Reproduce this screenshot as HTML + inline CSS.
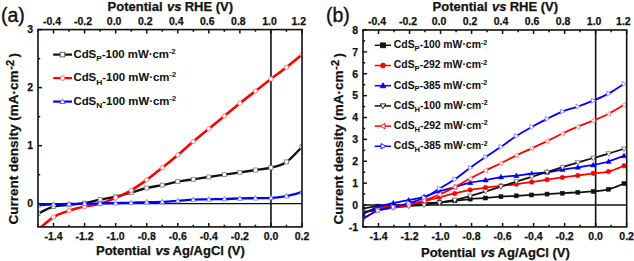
<!DOCTYPE html>
<html><head><meta charset="utf-8"><style>html,body{margin:0;padding:0;background:#fff;width:634px;height:261px;overflow:hidden}svg{display:block}</style></head>
<body>
<svg width="634" height="261" viewBox="0 0 634 261">
<style>
text{font-family:"Liberation Sans", sans-serif;fill:#111;stroke:#111;stroke-width:0.25px}
.tk{font-size:10.5px;font-weight:bold}
.ttl{font-size:13px;font-weight:bold}
.lg{font-size:10px;font-weight:bold;stroke-width:0.05px}
.sub{font-size:7.4px}
.sup{font-size:6.5px}
.lgb{font-size:10.4px;font-weight:bold;stroke-width:0.05px}
.subb{font-size:7.6px}
.supb{font-size:7px}
.pl{font-size:19.5px;stroke:#111;stroke-width:0.35px}
.yl{font-size:13px}
.ysup{font-size:11px}
</style>
<rect width="634" height="261" fill="#fff"/>
<clipPath id="ca"><rect x="38.00" y="29.60" width="264.01" height="197.30"/></clipPath>
<line x1="38.00" y1="203.69" x2="302.01" y2="203.69" stroke="#111" stroke-width="1.3"/>
<line x1="270.95" y1="29.60" x2="270.95" y2="226.90" stroke="#111" stroke-width="1.6"/>
<clipPath id="cb"><rect x="363.00" y="30.00" width="263.67" height="196.90"/></clipPath>
<line x1="363.00" y1="205.02" x2="626.67" y2="205.02" stroke="#111" stroke-width="1.3"/>
<line x1="595.65" y1="30.00" x2="595.65" y2="226.90" stroke="#111" stroke-width="1.6"/>
<path d="M38.00,213.55 C40.59,212.39 48.35,208.04 53.53,206.59 C58.71,205.14 63.88,205.43 69.06,204.85 C74.24,204.27 79.41,203.98 84.59,203.11 C89.77,202.24 94.94,200.69 100.12,199.63 C105.30,198.56 110.47,197.89 115.65,196.72 C120.83,195.56 126.00,194.11 131.18,192.66 C136.36,191.21 141.53,189.28 146.71,188.02 C151.89,186.76 157.06,186.18 162.24,185.12 C167.42,184.05 172.59,182.60 177.77,181.64 C182.95,180.67 188.12,180.09 193.30,179.32 C198.48,178.54 203.65,177.77 208.83,176.99 C214.01,176.22 219.18,175.45 224.36,174.67 C229.54,173.90 234.71,173.13 239.89,172.35 C245.07,171.58 250.24,170.80 255.42,170.03 C260.60,169.26 265.77,169.06 270.95,167.71 C276.13,166.36 281.30,165.39 286.48,161.91 C291.66,158.43 299.42,149.33 302.01,146.82" fill="none" stroke="#111" stroke-width="2.40" stroke-linejoin="round" clip-path="url(#ca)"/>
<g clip-path="url(#ca)"><rect x="36.00" y="211.55" width="4.00" height="4.00" fill="#fff" stroke="#777" stroke-width="0.80"/><rect x="51.53" y="204.59" width="4.00" height="4.00" fill="#fff" stroke="#777" stroke-width="0.80"/><rect x="67.06" y="202.85" width="4.00" height="4.00" fill="#fff" stroke="#777" stroke-width="0.80"/><rect x="82.59" y="201.11" width="4.00" height="4.00" fill="#fff" stroke="#777" stroke-width="0.80"/><rect x="98.12" y="197.63" width="4.00" height="4.00" fill="#fff" stroke="#777" stroke-width="0.80"/><rect x="113.65" y="194.72" width="4.00" height="4.00" fill="#fff" stroke="#777" stroke-width="0.80"/><rect x="129.18" y="190.66" width="4.00" height="4.00" fill="#fff" stroke="#777" stroke-width="0.80"/><rect x="144.71" y="186.02" width="4.00" height="4.00" fill="#fff" stroke="#777" stroke-width="0.80"/><rect x="160.24" y="183.12" width="4.00" height="4.00" fill="#fff" stroke="#777" stroke-width="0.80"/><rect x="175.77" y="179.64" width="4.00" height="4.00" fill="#fff" stroke="#777" stroke-width="0.80"/><rect x="191.30" y="177.32" width="4.00" height="4.00" fill="#fff" stroke="#777" stroke-width="0.80"/><rect x="206.83" y="174.99" width="4.00" height="4.00" fill="#fff" stroke="#777" stroke-width="0.80"/><rect x="222.36" y="172.67" width="4.00" height="4.00" fill="#fff" stroke="#777" stroke-width="0.80"/><rect x="237.89" y="170.35" width="4.00" height="4.00" fill="#fff" stroke="#777" stroke-width="0.80"/><rect x="253.42" y="168.03" width="4.00" height="4.00" fill="#fff" stroke="#777" stroke-width="0.80"/><rect x="268.95" y="165.71" width="4.00" height="4.00" fill="#fff" stroke="#777" stroke-width="0.80"/><rect x="284.48" y="159.91" width="4.00" height="4.00" fill="#fff" stroke="#777" stroke-width="0.80"/><rect x="300.01" y="144.82" width="4.00" height="4.00" fill="#fff" stroke="#777" stroke-width="0.80"/></g>
<path d="M38.00,229.80 C40.59,227.67 48.35,220.23 53.53,217.03 C58.71,213.84 63.88,212.39 69.06,210.65 C74.24,208.91 79.41,207.75 84.59,206.59 C89.77,205.43 94.94,205.14 100.12,203.69 C105.30,202.24 110.47,200.11 115.65,197.89 C120.83,195.66 126.00,193.34 131.18,190.34 C136.36,187.34 141.53,183.67 146.71,179.90 C151.89,176.12 157.06,171.87 162.24,167.71 C167.42,163.55 172.59,159.30 177.77,154.94 C182.95,150.59 188.12,145.95 193.30,141.60 C198.48,137.24 203.65,133.09 208.83,128.83 C214.01,124.57 219.18,120.32 224.36,116.06 C229.54,111.81 234.71,107.46 239.89,103.30 C245.07,99.14 250.24,95.17 255.42,91.11 C260.60,87.05 265.77,82.89 270.95,78.93 C276.13,74.96 281.30,71.38 286.48,67.32 C291.66,63.26 299.42,56.68 302.01,54.55" fill="none" stroke="#f00" stroke-width="2.60" stroke-linejoin="round" clip-path="url(#ca)"/>
<g clip-path="url(#ca)"><circle cx="53.53" cy="217.03" r="2.20" fill="#fff" stroke="#f66" stroke-width="0.80"/><circle cx="69.06" cy="210.65" r="2.20" fill="#fff" stroke="#f66" stroke-width="0.80"/><circle cx="84.59" cy="206.59" r="2.20" fill="#fff" stroke="#f66" stroke-width="0.80"/><circle cx="100.12" cy="203.69" r="2.20" fill="#fff" stroke="#f66" stroke-width="0.80"/><circle cx="115.65" cy="197.89" r="2.20" fill="#fff" stroke="#f66" stroke-width="0.80"/><circle cx="131.18" cy="190.34" r="2.20" fill="#fff" stroke="#f66" stroke-width="0.80"/><circle cx="146.71" cy="179.90" r="2.20" fill="#fff" stroke="#f66" stroke-width="0.80"/><circle cx="162.24" cy="167.71" r="2.20" fill="#fff" stroke="#f66" stroke-width="0.80"/><circle cx="177.77" cy="154.94" r="2.20" fill="#fff" stroke="#f66" stroke-width="0.80"/><circle cx="193.30" cy="141.60" r="2.20" fill="#fff" stroke="#f66" stroke-width="0.80"/><circle cx="208.83" cy="128.83" r="2.20" fill="#fff" stroke="#f66" stroke-width="0.80"/><circle cx="224.36" cy="116.06" r="2.20" fill="#fff" stroke="#f66" stroke-width="0.80"/><circle cx="239.89" cy="103.30" r="2.20" fill="#fff" stroke="#f66" stroke-width="0.80"/><circle cx="255.42" cy="91.11" r="2.20" fill="#fff" stroke="#f66" stroke-width="0.80"/><circle cx="270.95" cy="78.93" r="2.20" fill="#fff" stroke="#f66" stroke-width="0.80"/><circle cx="286.48" cy="67.32" r="2.20" fill="#fff" stroke="#f66" stroke-width="0.80"/><circle cx="302.01" cy="54.55" r="2.20" fill="#fff" stroke="#f66" stroke-width="0.80"/></g>
<path d="M38.00,205.14 C40.59,204.99 48.35,204.46 53.53,204.27 C58.71,204.08 63.88,204.08 69.06,203.98 C74.24,203.88 79.41,203.78 84.59,203.69 C89.77,203.59 94.94,203.49 100.12,203.40 C105.30,203.30 110.47,203.20 115.65,203.11 C120.83,203.01 126.00,202.98 131.18,202.82 C136.36,202.65 141.53,202.27 146.71,202.12 C151.89,201.98 157.06,202.15 162.24,201.95 C167.42,201.74 172.59,201.29 177.77,200.90 C182.95,200.52 188.12,199.89 193.30,199.63 C198.48,199.37 203.65,199.43 208.83,199.34 C214.01,199.24 219.18,199.19 224.36,199.05 C229.54,198.90 234.71,198.61 239.89,198.47 C245.07,198.32 250.24,198.27 255.42,198.18 C260.60,198.08 265.77,198.22 270.95,197.89 C276.13,197.55 281.30,197.11 286.48,196.14 C291.66,195.18 299.42,192.76 302.01,192.08" fill="none" stroke="#00f" stroke-width="2.30" stroke-linejoin="round" clip-path="url(#ca)"/>
<g clip-path="url(#ca)"><polygon points="38.00,202.50 40.51,206.99 35.49,206.99" fill="#fff" stroke="#66f" stroke-width="0.80"/><polygon points="53.53,201.63 56.04,206.12 51.02,206.12" fill="#fff" stroke="#66f" stroke-width="0.80"/><polygon points="69.06,201.34 71.57,205.83 66.55,205.83" fill="#fff" stroke="#66f" stroke-width="0.80"/><polygon points="84.59,201.05 87.10,205.54 82.08,205.54" fill="#fff" stroke="#66f" stroke-width="0.80"/><polygon points="100.12,200.76 102.63,205.25 97.61,205.25" fill="#fff" stroke="#66f" stroke-width="0.80"/><polygon points="115.65,200.47 118.16,204.96 113.14,204.96" fill="#fff" stroke="#66f" stroke-width="0.80"/><polygon points="131.18,200.18 133.69,204.67 128.67,204.67" fill="#fff" stroke="#66f" stroke-width="0.80"/><polygon points="146.71,199.48 149.22,203.97 144.20,203.97" fill="#fff" stroke="#66f" stroke-width="0.80"/><polygon points="162.24,199.31 164.75,203.80 159.73,203.80" fill="#fff" stroke="#66f" stroke-width="0.80"/><polygon points="177.77,198.26 180.28,202.75 175.26,202.75" fill="#fff" stroke="#66f" stroke-width="0.80"/><polygon points="193.30,196.99 195.81,201.47 190.79,201.47" fill="#fff" stroke="#66f" stroke-width="0.80"/><polygon points="208.83,196.70 211.34,201.18 206.32,201.18" fill="#fff" stroke="#66f" stroke-width="0.80"/><polygon points="224.36,196.41 226.87,200.89 221.85,200.89" fill="#fff" stroke="#66f" stroke-width="0.80"/><polygon points="239.89,195.83 242.40,200.31 237.38,200.31" fill="#fff" stroke="#66f" stroke-width="0.80"/><polygon points="255.42,195.54 257.93,200.02 252.91,200.02" fill="#fff" stroke="#66f" stroke-width="0.80"/><polygon points="270.95,195.25 273.46,199.73 268.44,199.73" fill="#fff" stroke="#66f" stroke-width="0.80"/><polygon points="286.48,193.50 288.99,197.99 283.97,197.99" fill="#fff" stroke="#66f" stroke-width="0.80"/><polygon points="302.01,189.44 304.52,193.93 299.50,193.93" fill="#fff" stroke="#66f" stroke-width="0.80"/></g>
<path d="M362.52,208.74 C365.08,208.30 372.77,206.66 377.90,206.12 C383.03,205.57 388.15,205.68 393.28,205.46 C398.41,205.24 403.53,205.13 408.66,204.80 C413.79,204.48 418.91,203.89 424.04,203.49 C429.17,203.09 434.29,202.83 439.42,202.40 C444.55,201.96 449.67,201.41 454.80,200.87 C459.93,200.32 465.05,199.59 470.18,199.12 C475.31,198.64 480.43,198.42 485.56,198.02 C490.69,197.62 495.81,197.07 500.94,196.71 C506.07,196.34 511.19,196.13 516.32,195.83 C521.45,195.54 526.57,195.25 531.70,194.96 C536.83,194.67 541.95,194.38 547.08,194.08 C552.21,193.79 557.33,193.50 562.46,193.21 C567.59,192.92 572.71,192.62 577.84,192.33 C582.97,192.04 588.09,191.97 593.22,191.46 C598.35,190.95 603.47,190.58 608.60,189.27 C613.73,187.96 621.42,184.53 623.98,183.58" fill="none" stroke="#111" stroke-width="1.80" stroke-linejoin="round" clip-path="url(#cb)"/>
<g clip-path="url(#cb)"><rect x="360.52" y="206.74" width="4.00" height="4.00" fill="#111" stroke="#111" stroke-width="0.50"/><rect x="375.90" y="204.12" width="4.00" height="4.00" fill="#111" stroke="#111" stroke-width="0.50"/><rect x="391.28" y="203.46" width="4.00" height="4.00" fill="#111" stroke="#111" stroke-width="0.50"/><rect x="406.66" y="202.80" width="4.00" height="4.00" fill="#111" stroke="#111" stroke-width="0.50"/><rect x="422.04" y="201.49" width="4.00" height="4.00" fill="#111" stroke="#111" stroke-width="0.50"/><rect x="437.42" y="200.40" width="4.00" height="4.00" fill="#111" stroke="#111" stroke-width="0.50"/><rect x="452.80" y="198.87" width="4.00" height="4.00" fill="#111" stroke="#111" stroke-width="0.50"/><rect x="468.18" y="197.12" width="4.00" height="4.00" fill="#111" stroke="#111" stroke-width="0.50"/><rect x="483.56" y="196.02" width="4.00" height="4.00" fill="#111" stroke="#111" stroke-width="0.50"/><rect x="498.94" y="194.71" width="4.00" height="4.00" fill="#111" stroke="#111" stroke-width="0.50"/><rect x="514.32" y="193.83" width="4.00" height="4.00" fill="#111" stroke="#111" stroke-width="0.50"/><rect x="529.70" y="192.96" width="4.00" height="4.00" fill="#111" stroke="#111" stroke-width="0.50"/><rect x="545.08" y="192.08" width="4.00" height="4.00" fill="#111" stroke="#111" stroke-width="0.50"/><rect x="560.46" y="191.21" width="4.00" height="4.00" fill="#111" stroke="#111" stroke-width="0.50"/><rect x="575.84" y="190.33" width="4.00" height="4.00" fill="#111" stroke="#111" stroke-width="0.50"/><rect x="591.22" y="189.46" width="4.00" height="4.00" fill="#111" stroke="#111" stroke-width="0.50"/><rect x="606.60" y="187.27" width="4.00" height="4.00" fill="#111" stroke="#111" stroke-width="0.50"/><rect x="621.98" y="181.58" width="4.00" height="4.00" fill="#111" stroke="#111" stroke-width="0.50"/></g>
<path d="M362.52,213.77 C365.08,212.86 372.77,209.58 377.90,208.30 C383.03,207.03 388.15,206.85 393.28,206.12 C398.41,205.39 403.53,204.73 408.66,203.93 C413.79,203.13 418.91,202.40 424.04,201.30 C429.17,200.21 434.29,198.68 439.42,197.37 C444.55,196.05 449.67,194.67 454.80,193.43 C459.93,192.19 465.05,190.91 470.18,189.93 C475.31,188.94 480.43,188.21 485.56,187.52 C490.69,186.83 495.81,186.32 500.94,185.77 C506.07,185.22 511.19,184.86 516.32,184.24 C521.45,183.62 526.57,182.82 531.70,182.05 C536.83,181.28 541.95,180.41 547.08,179.64 C552.21,178.88 557.33,178.15 562.46,177.46 C567.59,176.76 572.71,176.18 577.84,175.49 C582.97,174.79 588.09,173.96 593.22,173.30 C598.35,172.64 603.47,172.79 608.60,171.55 C613.73,170.31 621.42,166.81 623.98,165.86" fill="none" stroke="#f00" stroke-width="1.80" stroke-linejoin="round" clip-path="url(#cb)"/>
<g clip-path="url(#cb)"><circle cx="362.52" cy="213.77" r="2.30" fill="#f00" stroke="#f00" stroke-width="0.50"/><circle cx="377.90" cy="208.30" r="2.30" fill="#f00" stroke="#f00" stroke-width="0.50"/><circle cx="393.28" cy="206.12" r="2.30" fill="#f00" stroke="#f00" stroke-width="0.50"/><circle cx="408.66" cy="203.93" r="2.30" fill="#f00" stroke="#f00" stroke-width="0.50"/><circle cx="424.04" cy="201.30" r="2.30" fill="#f00" stroke="#f00" stroke-width="0.50"/><circle cx="439.42" cy="197.37" r="2.30" fill="#f00" stroke="#f00" stroke-width="0.50"/><circle cx="454.80" cy="193.43" r="2.30" fill="#f00" stroke="#f00" stroke-width="0.50"/><circle cx="470.18" cy="189.93" r="2.30" fill="#f00" stroke="#f00" stroke-width="0.50"/><circle cx="485.56" cy="187.52" r="2.30" fill="#f00" stroke="#f00" stroke-width="0.50"/><circle cx="500.94" cy="185.77" r="2.30" fill="#f00" stroke="#f00" stroke-width="0.50"/><circle cx="516.32" cy="184.24" r="2.30" fill="#f00" stroke="#f00" stroke-width="0.50"/><circle cx="531.70" cy="182.05" r="2.30" fill="#f00" stroke="#f00" stroke-width="0.50"/><circle cx="547.08" cy="179.64" r="2.30" fill="#f00" stroke="#f00" stroke-width="0.50"/><circle cx="562.46" cy="177.46" r="2.30" fill="#f00" stroke="#f00" stroke-width="0.50"/><circle cx="577.84" cy="175.49" r="2.30" fill="#f00" stroke="#f00" stroke-width="0.50"/><circle cx="593.22" cy="173.30" r="2.30" fill="#f00" stroke="#f00" stroke-width="0.50"/><circle cx="608.60" cy="171.55" r="2.30" fill="#f00" stroke="#f00" stroke-width="0.50"/><circle cx="623.98" cy="165.86" r="2.30" fill="#f00" stroke="#f00" stroke-width="0.50"/></g>
<path d="M362.52,214.21 C365.08,212.97 372.77,208.63 377.90,206.77 C383.03,204.91 388.15,204.15 393.28,203.05 C398.41,201.96 403.53,201.23 408.66,200.21 C413.79,199.19 418.91,198.42 424.04,196.93 C429.17,195.43 434.29,192.88 439.42,191.24 C444.55,189.60 449.67,188.50 454.80,187.08 C459.93,185.66 465.05,183.87 470.18,182.71 C475.31,181.54 480.43,181.03 485.56,180.08 C490.69,179.13 495.81,177.75 500.94,177.02 C506.07,176.29 511.19,176.25 516.32,175.71 C521.45,175.16 526.57,174.32 531.70,173.74 C536.83,173.15 541.95,172.90 547.08,172.21 C552.21,171.51 557.33,170.38 562.46,169.58 C567.59,168.78 572.71,168.16 577.84,167.39 C582.97,166.63 588.09,165.97 593.22,164.99 C598.35,164.00 603.47,163.02 608.60,161.49 C613.73,159.95 621.42,156.75 623.98,155.80" fill="none" stroke="#00f" stroke-width="1.80" stroke-linejoin="round" clip-path="url(#cb)"/>
<g clip-path="url(#cb)"><polygon points="362.52,211.45 365.14,216.14 359.90,216.14" fill="#00f" stroke="#00f" stroke-width="0.50"/><polygon points="377.90,204.01 380.52,208.70 375.28,208.70" fill="#00f" stroke="#00f" stroke-width="0.50"/><polygon points="393.28,200.29 395.90,204.99 390.66,204.99" fill="#00f" stroke="#00f" stroke-width="0.50"/><polygon points="408.66,197.45 411.28,202.14 406.04,202.14" fill="#00f" stroke="#00f" stroke-width="0.50"/><polygon points="424.04,194.17 426.66,198.86 421.42,198.86" fill="#00f" stroke="#00f" stroke-width="0.50"/><polygon points="439.42,188.48 442.04,193.17 436.80,193.17" fill="#00f" stroke="#00f" stroke-width="0.50"/><polygon points="454.80,184.32 457.42,189.01 452.18,189.01" fill="#00f" stroke="#00f" stroke-width="0.50"/><polygon points="470.18,179.95 472.80,184.64 467.56,184.64" fill="#00f" stroke="#00f" stroke-width="0.50"/><polygon points="485.56,177.32 488.18,182.01 482.94,182.01" fill="#00f" stroke="#00f" stroke-width="0.50"/><polygon points="500.94,174.26 503.56,178.95 498.32,178.95" fill="#00f" stroke="#00f" stroke-width="0.50"/><polygon points="516.32,172.95 518.94,177.64 513.70,177.64" fill="#00f" stroke="#00f" stroke-width="0.50"/><polygon points="531.70,170.98 534.32,175.67 529.08,175.67" fill="#00f" stroke="#00f" stroke-width="0.50"/><polygon points="547.08,169.45 549.70,174.14 544.46,174.14" fill="#00f" stroke="#00f" stroke-width="0.50"/><polygon points="562.46,166.82 565.08,171.51 559.84,171.51" fill="#00f" stroke="#00f" stroke-width="0.50"/><polygon points="577.84,164.63 580.46,169.32 575.22,169.32" fill="#00f" stroke="#00f" stroke-width="0.50"/><polygon points="593.22,162.23 595.84,166.92 590.60,166.92" fill="#00f" stroke="#00f" stroke-width="0.50"/><polygon points="608.60,158.73 611.22,163.42 605.98,163.42" fill="#00f" stroke="#00f" stroke-width="0.50"/><polygon points="623.98,153.04 626.60,157.73 621.36,157.73" fill="#00f" stroke="#00f" stroke-width="0.50"/></g>
<path d="M362.52,211.59 C365.08,211.33 372.77,210.71 377.90,210.05 C383.03,209.40 388.15,208.30 393.28,207.65 C398.41,206.99 403.53,206.55 408.66,206.12 C413.79,205.68 418.91,205.57 424.04,205.02 C429.17,204.48 434.29,203.67 439.42,202.83 C444.55,202.00 449.67,201.12 454.80,199.99 C459.93,198.86 465.05,197.47 470.18,196.05 C475.31,194.63 480.43,193.03 485.56,191.46 C490.69,189.89 495.81,188.29 500.94,186.64 C506.07,185.00 511.19,183.25 516.32,181.61 C521.45,179.97 526.57,178.40 531.70,176.80 C536.83,175.20 541.95,173.59 547.08,171.99 C552.21,170.38 557.33,168.74 562.46,167.17 C567.59,165.61 572.71,164.11 577.84,162.58 C582.97,161.05 588.09,159.48 593.22,157.99 C598.35,156.49 603.47,155.14 608.60,153.61 C613.73,152.08 621.42,149.60 623.98,148.80" fill="none" stroke="#111" stroke-width="1.80" stroke-linejoin="round" clip-path="url(#cb)"/>
<g clip-path="url(#cb)"><polygon points="362.52,214.23 365.03,209.74 360.01,209.74" fill="#fff" stroke="#555" stroke-width="0.70"/><polygon points="377.90,212.69 380.41,208.21 375.39,208.21" fill="#fff" stroke="#555" stroke-width="0.70"/><polygon points="393.28,210.29 395.79,205.80 390.77,205.80" fill="#fff" stroke="#555" stroke-width="0.70"/><polygon points="408.66,208.76 411.17,204.27 406.15,204.27" fill="#fff" stroke="#555" stroke-width="0.70"/><polygon points="424.04,207.66 426.55,203.17 421.53,203.17" fill="#fff" stroke="#555" stroke-width="0.70"/><polygon points="439.42,205.47 441.93,200.99 436.91,200.99" fill="#fff" stroke="#555" stroke-width="0.70"/><polygon points="454.80,202.63 457.31,198.14 452.29,198.14" fill="#fff" stroke="#555" stroke-width="0.70"/><polygon points="470.18,198.69 472.69,194.20 467.67,194.20" fill="#fff" stroke="#555" stroke-width="0.70"/><polygon points="485.56,194.10 488.07,189.61 483.05,189.61" fill="#fff" stroke="#555" stroke-width="0.70"/><polygon points="500.94,189.28 503.45,184.80 498.43,184.80" fill="#fff" stroke="#555" stroke-width="0.70"/><polygon points="516.32,184.25 518.83,179.76 513.81,179.76" fill="#fff" stroke="#555" stroke-width="0.70"/><polygon points="531.70,179.44 534.21,174.95 529.19,174.95" fill="#fff" stroke="#555" stroke-width="0.70"/><polygon points="547.08,174.63 549.59,170.14 544.57,170.14" fill="#fff" stroke="#555" stroke-width="0.70"/><polygon points="562.46,169.81 564.97,165.33 559.95,165.33" fill="#fff" stroke="#555" stroke-width="0.70"/><polygon points="577.84,165.22 580.35,160.73 575.33,160.73" fill="#fff" stroke="#555" stroke-width="0.70"/><polygon points="593.22,160.62 595.73,156.14 590.71,156.14" fill="#fff" stroke="#555" stroke-width="0.70"/><polygon points="608.60,156.25 611.11,151.76 606.09,151.76" fill="#fff" stroke="#555" stroke-width="0.70"/><polygon points="623.98,151.44 626.49,146.95 621.47,146.95" fill="#fff" stroke="#555" stroke-width="0.70"/></g>
<path d="M362.52,218.59 C365.08,217.24 372.77,212.31 377.90,210.49 C383.03,208.67 388.15,208.56 393.28,207.65 C398.41,206.74 403.53,206.23 408.66,205.02 C413.79,203.82 418.91,202.18 424.04,200.43 C429.17,198.68 434.29,196.75 439.42,194.52 C444.55,192.30 449.67,189.74 454.80,187.08 C459.93,184.42 465.05,181.32 470.18,178.55 C475.31,175.78 480.43,173.01 485.56,170.46 C490.69,167.90 495.81,165.75 500.94,163.24 C506.07,160.72 511.19,157.84 516.32,155.36 C521.45,152.88 526.57,150.73 531.70,148.36 C536.83,145.99 541.95,143.62 547.08,141.14 C552.21,138.66 557.33,135.89 562.46,133.48 C567.59,131.08 572.71,128.85 577.84,126.70 C582.97,124.55 588.09,122.73 593.22,120.57 C598.35,118.42 603.47,116.42 608.60,113.79 C613.73,111.17 621.42,106.32 623.98,104.82" fill="none" stroke="#f00" stroke-width="1.80" stroke-linejoin="round" clip-path="url(#cb)"/>
<g clip-path="url(#cb)"><polygon points="359.88,218.59 364.37,216.08 364.37,221.09" fill="#fff" stroke="#f66" stroke-width="0.70"/><polygon points="375.26,210.49 379.75,207.98 379.75,213.00" fill="#fff" stroke="#f66" stroke-width="0.70"/><polygon points="390.64,207.65 395.13,205.14 395.13,210.16" fill="#fff" stroke="#f66" stroke-width="0.70"/><polygon points="406.02,205.02 410.51,202.51 410.51,207.53" fill="#fff" stroke="#f66" stroke-width="0.70"/><polygon points="421.40,200.43 425.89,197.92 425.89,202.94" fill="#fff" stroke="#f66" stroke-width="0.70"/><polygon points="436.78,194.52 441.27,192.01 441.27,197.03" fill="#fff" stroke="#f66" stroke-width="0.70"/><polygon points="452.16,187.08 456.65,184.57 456.65,189.59" fill="#fff" stroke="#f66" stroke-width="0.70"/><polygon points="467.54,178.55 472.03,176.04 472.03,181.06" fill="#fff" stroke="#f66" stroke-width="0.70"/><polygon points="482.92,170.46 487.41,167.95 487.41,172.96" fill="#fff" stroke="#f66" stroke-width="0.70"/><polygon points="498.30,163.24 502.79,160.73 502.79,165.74" fill="#fff" stroke="#f66" stroke-width="0.70"/><polygon points="513.68,155.36 518.17,152.85 518.17,157.87" fill="#fff" stroke="#f66" stroke-width="0.70"/><polygon points="529.06,148.36 533.55,145.85 533.55,150.87" fill="#fff" stroke="#f66" stroke-width="0.70"/><polygon points="544.44,141.14 548.93,138.63 548.93,143.65" fill="#fff" stroke="#f66" stroke-width="0.70"/><polygon points="559.82,133.48 564.31,130.97 564.31,135.99" fill="#fff" stroke="#f66" stroke-width="0.70"/><polygon points="575.20,126.70 579.69,124.19 579.69,129.21" fill="#fff" stroke="#f66" stroke-width="0.70"/><polygon points="590.58,120.57 595.07,118.07 595.07,123.08" fill="#fff" stroke="#f66" stroke-width="0.70"/><polygon points="605.96,113.79 610.45,111.28 610.45,116.30" fill="#fff" stroke="#f66" stroke-width="0.70"/><polygon points="621.34,104.82 625.83,102.31 625.83,107.33" fill="#fff" stroke="#f66" stroke-width="0.70"/></g>
<path d="M362.52,219.46 C365.08,217.97 372.77,212.57 377.90,210.49 C383.03,208.41 388.15,208.19 393.28,206.99 C398.41,205.79 403.53,204.80 408.66,203.27 C413.79,201.74 418.91,200.25 424.04,197.80 C429.17,195.36 434.29,191.71 439.42,188.61 C444.55,185.51 449.67,182.67 454.80,179.21 C459.93,175.74 465.05,171.51 470.18,167.83 C475.31,164.15 480.43,160.61 485.56,157.11 C490.69,153.61 495.81,150.33 500.94,146.83 C506.07,143.33 511.19,139.43 516.32,136.11 C521.45,132.79 526.57,129.80 531.70,126.92 C536.83,124.04 541.95,121.38 547.08,118.82 C552.21,116.27 557.33,113.65 562.46,111.60 C567.59,109.56 572.71,108.40 577.84,106.57 C582.97,104.75 588.09,102.82 593.22,100.67 C598.35,98.51 603.47,96.47 608.60,93.66 C613.73,90.86 621.42,85.46 623.98,83.82" fill="none" stroke="#00f" stroke-width="1.80" stroke-linejoin="round" clip-path="url(#cb)"/>
<g clip-path="url(#cb)"><polygon points="365.16,219.46 360.67,216.95 360.67,221.97" fill="#fff" stroke="#66f" stroke-width="0.70"/><polygon points="380.54,210.49 376.05,207.98 376.05,213.00" fill="#fff" stroke="#66f" stroke-width="0.70"/><polygon points="395.92,206.99 391.43,204.48 391.43,209.50" fill="#fff" stroke="#66f" stroke-width="0.70"/><polygon points="411.30,203.27 406.81,200.76 406.81,205.78" fill="#fff" stroke="#66f" stroke-width="0.70"/><polygon points="426.68,197.80 422.19,195.29 422.19,200.31" fill="#fff" stroke="#66f" stroke-width="0.70"/><polygon points="442.06,188.61 437.57,186.11 437.57,191.12" fill="#fff" stroke="#66f" stroke-width="0.70"/><polygon points="457.44,179.21 452.95,176.70 452.95,181.71" fill="#fff" stroke="#66f" stroke-width="0.70"/><polygon points="472.82,167.83 468.33,165.32 468.33,170.34" fill="#fff" stroke="#66f" stroke-width="0.70"/><polygon points="488.20,157.11 483.71,154.60 483.71,159.62" fill="#fff" stroke="#66f" stroke-width="0.70"/><polygon points="503.58,146.83 499.09,144.32 499.09,149.34" fill="#fff" stroke="#66f" stroke-width="0.70"/><polygon points="518.96,136.11 514.47,133.60 514.47,138.62" fill="#fff" stroke="#66f" stroke-width="0.70"/><polygon points="534.34,126.92 529.85,124.41 529.85,129.43" fill="#fff" stroke="#66f" stroke-width="0.70"/><polygon points="549.72,118.82 545.23,116.32 545.23,121.33" fill="#fff" stroke="#66f" stroke-width="0.70"/><polygon points="565.10,111.60 560.61,109.10 560.61,114.11" fill="#fff" stroke="#66f" stroke-width="0.70"/><polygon points="580.48,106.57 575.99,104.06 575.99,109.08" fill="#fff" stroke="#66f" stroke-width="0.70"/><polygon points="595.86,100.67 591.37,98.16 591.37,103.17" fill="#fff" stroke="#66f" stroke-width="0.70"/><polygon points="611.24,93.66 606.75,91.16 606.75,96.17" fill="#fff" stroke="#66f" stroke-width="0.70"/><polygon points="626.62,83.82 622.13,81.31 622.13,86.33" fill="#fff" stroke="#66f" stroke-width="0.70"/></g>
<rect x="38.00" y="29.60" width="264.01" height="197.30" fill="none" stroke="#111" stroke-width="1.60"/>
<line x1="38.00" y1="226.90" x2="38.00" y2="224.70" stroke="#111" stroke-width="1.5"/>
<line x1="38.00" y1="29.60" x2="38.00" y2="31.80" stroke="#111" stroke-width="1.5"/>
<line x1="53.53" y1="226.90" x2="53.53" y2="222.90" stroke="#111" stroke-width="1.5"/>
<line x1="53.53" y1="29.60" x2="53.53" y2="33.60" stroke="#111" stroke-width="1.5"/>
<line x1="69.06" y1="226.90" x2="69.06" y2="224.70" stroke="#111" stroke-width="1.5"/>
<line x1="69.06" y1="29.60" x2="69.06" y2="31.80" stroke="#111" stroke-width="1.5"/>
<line x1="84.59" y1="226.90" x2="84.59" y2="222.90" stroke="#111" stroke-width="1.5"/>
<line x1="84.59" y1="29.60" x2="84.59" y2="33.60" stroke="#111" stroke-width="1.5"/>
<line x1="100.12" y1="226.90" x2="100.12" y2="224.70" stroke="#111" stroke-width="1.5"/>
<line x1="100.12" y1="29.60" x2="100.12" y2="31.80" stroke="#111" stroke-width="1.5"/>
<line x1="115.65" y1="226.90" x2="115.65" y2="222.90" stroke="#111" stroke-width="1.5"/>
<line x1="115.65" y1="29.60" x2="115.65" y2="33.60" stroke="#111" stroke-width="1.5"/>
<line x1="131.18" y1="226.90" x2="131.18" y2="224.70" stroke="#111" stroke-width="1.5"/>
<line x1="131.18" y1="29.60" x2="131.18" y2="31.80" stroke="#111" stroke-width="1.5"/>
<line x1="146.71" y1="226.90" x2="146.71" y2="222.90" stroke="#111" stroke-width="1.5"/>
<line x1="146.71" y1="29.60" x2="146.71" y2="33.60" stroke="#111" stroke-width="1.5"/>
<line x1="162.24" y1="226.90" x2="162.24" y2="224.70" stroke="#111" stroke-width="1.5"/>
<line x1="162.24" y1="29.60" x2="162.24" y2="31.80" stroke="#111" stroke-width="1.5"/>
<line x1="177.77" y1="226.90" x2="177.77" y2="222.90" stroke="#111" stroke-width="1.5"/>
<line x1="177.77" y1="29.60" x2="177.77" y2="33.60" stroke="#111" stroke-width="1.5"/>
<line x1="193.30" y1="226.90" x2="193.30" y2="224.70" stroke="#111" stroke-width="1.5"/>
<line x1="193.30" y1="29.60" x2="193.30" y2="31.80" stroke="#111" stroke-width="1.5"/>
<line x1="208.83" y1="226.90" x2="208.83" y2="222.90" stroke="#111" stroke-width="1.5"/>
<line x1="208.83" y1="29.60" x2="208.83" y2="33.60" stroke="#111" stroke-width="1.5"/>
<line x1="224.36" y1="226.90" x2="224.36" y2="224.70" stroke="#111" stroke-width="1.5"/>
<line x1="224.36" y1="29.60" x2="224.36" y2="31.80" stroke="#111" stroke-width="1.5"/>
<line x1="239.89" y1="226.90" x2="239.89" y2="222.90" stroke="#111" stroke-width="1.5"/>
<line x1="239.89" y1="29.60" x2="239.89" y2="33.60" stroke="#111" stroke-width="1.5"/>
<line x1="255.42" y1="226.90" x2="255.42" y2="224.70" stroke="#111" stroke-width="1.5"/>
<line x1="255.42" y1="29.60" x2="255.42" y2="31.80" stroke="#111" stroke-width="1.5"/>
<line x1="270.95" y1="226.90" x2="270.95" y2="222.90" stroke="#111" stroke-width="1.5"/>
<line x1="270.95" y1="29.60" x2="270.95" y2="33.60" stroke="#111" stroke-width="1.5"/>
<line x1="286.48" y1="226.90" x2="286.48" y2="224.70" stroke="#111" stroke-width="1.5"/>
<line x1="286.48" y1="29.60" x2="286.48" y2="31.80" stroke="#111" stroke-width="1.5"/>
<line x1="302.01" y1="226.90" x2="302.01" y2="222.90" stroke="#111" stroke-width="1.5"/>
<line x1="302.01" y1="29.60" x2="302.01" y2="33.60" stroke="#111" stroke-width="1.5"/>
<line x1="38.00" y1="203.69" x2="42.00" y2="203.69" stroke="#111" stroke-width="1.5"/>
<line x1="38.00" y1="145.66" x2="42.00" y2="145.66" stroke="#111" stroke-width="1.5"/>
<line x1="38.00" y1="87.63" x2="42.00" y2="87.63" stroke="#111" stroke-width="1.5"/>
<line x1="38.00" y1="29.60" x2="42.00" y2="29.60" stroke="#111" stroke-width="1.5"/>
<line x1="38.00" y1="174.67" x2="40.20" y2="174.67" stroke="#111" stroke-width="1.5"/>
<line x1="38.00" y1="116.64" x2="40.20" y2="116.64" stroke="#111" stroke-width="1.5"/>
<line x1="38.00" y1="58.61" x2="40.20" y2="58.61" stroke="#111" stroke-width="1.5"/>
<text x="53.53" y="239.80" class="tk" text-anchor="middle">-1.4</text>
<text x="52.03" y="25.30" class="tk" text-anchor="middle">-0.4</text>
<text x="84.59" y="239.80" class="tk" text-anchor="middle">-1.2</text>
<text x="83.09" y="25.30" class="tk" text-anchor="middle">-0.2</text>
<text x="115.65" y="239.80" class="tk" text-anchor="middle">-1.0</text>
<text x="114.15" y="25.30" class="tk" text-anchor="middle">0.0</text>
<text x="146.71" y="239.80" class="tk" text-anchor="middle">-0.8</text>
<text x="145.21" y="25.30" class="tk" text-anchor="middle">0.2</text>
<text x="177.77" y="239.80" class="tk" text-anchor="middle">-0.6</text>
<text x="176.27" y="25.30" class="tk" text-anchor="middle">0.4</text>
<text x="208.83" y="239.80" class="tk" text-anchor="middle">-0.4</text>
<text x="207.33" y="25.30" class="tk" text-anchor="middle">0.6</text>
<text x="239.89" y="239.80" class="tk" text-anchor="middle">-0.2</text>
<text x="238.39" y="25.30" class="tk" text-anchor="middle">0.8</text>
<text x="270.95" y="239.80" class="tk" text-anchor="middle">0.0</text>
<text x="269.45" y="25.30" class="tk" text-anchor="middle">1.0</text>
<text x="302.01" y="239.80" class="tk" text-anchor="middle">0.2</text>
<text x="298.71" y="25.30" class="tk" text-anchor="middle">1.2</text>
<text x="33.00" y="207.49" class="tk" text-anchor="end">0</text>
<text x="33.00" y="149.46" class="tk" text-anchor="end">1</text>
<text x="33.00" y="91.43" class="tk" text-anchor="end">2</text>
<text x="33.00" y="33.40" class="tk" text-anchor="end">3</text>
<rect x="363.00" y="30.00" width="263.67" height="196.90" fill="none" stroke="#111" stroke-width="1.60"/>
<line x1="363.00" y1="226.90" x2="363.00" y2="224.70" stroke="#111" stroke-width="1.5"/>
<line x1="363.00" y1="30.00" x2="363.00" y2="32.20" stroke="#111" stroke-width="1.5"/>
<line x1="378.51" y1="226.90" x2="378.51" y2="222.90" stroke="#111" stroke-width="1.5"/>
<line x1="378.51" y1="30.00" x2="378.51" y2="34.00" stroke="#111" stroke-width="1.5"/>
<line x1="394.02" y1="226.90" x2="394.02" y2="224.70" stroke="#111" stroke-width="1.5"/>
<line x1="394.02" y1="30.00" x2="394.02" y2="32.20" stroke="#111" stroke-width="1.5"/>
<line x1="409.53" y1="226.90" x2="409.53" y2="222.90" stroke="#111" stroke-width="1.5"/>
<line x1="409.53" y1="30.00" x2="409.53" y2="34.00" stroke="#111" stroke-width="1.5"/>
<line x1="425.04" y1="226.90" x2="425.04" y2="224.70" stroke="#111" stroke-width="1.5"/>
<line x1="425.04" y1="30.00" x2="425.04" y2="32.20" stroke="#111" stroke-width="1.5"/>
<line x1="440.55" y1="226.90" x2="440.55" y2="222.90" stroke="#111" stroke-width="1.5"/>
<line x1="440.55" y1="30.00" x2="440.55" y2="34.00" stroke="#111" stroke-width="1.5"/>
<line x1="456.06" y1="226.90" x2="456.06" y2="224.70" stroke="#111" stroke-width="1.5"/>
<line x1="456.06" y1="30.00" x2="456.06" y2="32.20" stroke="#111" stroke-width="1.5"/>
<line x1="471.57" y1="226.90" x2="471.57" y2="222.90" stroke="#111" stroke-width="1.5"/>
<line x1="471.57" y1="30.00" x2="471.57" y2="34.00" stroke="#111" stroke-width="1.5"/>
<line x1="487.08" y1="226.90" x2="487.08" y2="224.70" stroke="#111" stroke-width="1.5"/>
<line x1="487.08" y1="30.00" x2="487.08" y2="32.20" stroke="#111" stroke-width="1.5"/>
<line x1="502.59" y1="226.90" x2="502.59" y2="222.90" stroke="#111" stroke-width="1.5"/>
<line x1="502.59" y1="30.00" x2="502.59" y2="34.00" stroke="#111" stroke-width="1.5"/>
<line x1="518.10" y1="226.90" x2="518.10" y2="224.70" stroke="#111" stroke-width="1.5"/>
<line x1="518.10" y1="30.00" x2="518.10" y2="32.20" stroke="#111" stroke-width="1.5"/>
<line x1="533.61" y1="226.90" x2="533.61" y2="222.90" stroke="#111" stroke-width="1.5"/>
<line x1="533.61" y1="30.00" x2="533.61" y2="34.00" stroke="#111" stroke-width="1.5"/>
<line x1="549.12" y1="226.90" x2="549.12" y2="224.70" stroke="#111" stroke-width="1.5"/>
<line x1="549.12" y1="30.00" x2="549.12" y2="32.20" stroke="#111" stroke-width="1.5"/>
<line x1="564.63" y1="226.90" x2="564.63" y2="222.90" stroke="#111" stroke-width="1.5"/>
<line x1="564.63" y1="30.00" x2="564.63" y2="34.00" stroke="#111" stroke-width="1.5"/>
<line x1="580.14" y1="226.90" x2="580.14" y2="224.70" stroke="#111" stroke-width="1.5"/>
<line x1="580.14" y1="30.00" x2="580.14" y2="32.20" stroke="#111" stroke-width="1.5"/>
<line x1="595.65" y1="226.90" x2="595.65" y2="222.90" stroke="#111" stroke-width="1.5"/>
<line x1="595.65" y1="30.00" x2="595.65" y2="34.00" stroke="#111" stroke-width="1.5"/>
<line x1="611.16" y1="226.90" x2="611.16" y2="224.70" stroke="#111" stroke-width="1.5"/>
<line x1="611.16" y1="30.00" x2="611.16" y2="32.20" stroke="#111" stroke-width="1.5"/>
<line x1="626.67" y1="226.90" x2="626.67" y2="222.90" stroke="#111" stroke-width="1.5"/>
<line x1="626.67" y1="30.00" x2="626.67" y2="34.00" stroke="#111" stroke-width="1.5"/>
<line x1="363.00" y1="226.90" x2="367.00" y2="226.90" stroke="#111" stroke-width="1.5"/>
<line x1="363.00" y1="205.02" x2="367.00" y2="205.02" stroke="#111" stroke-width="1.5"/>
<line x1="363.00" y1="183.14" x2="367.00" y2="183.14" stroke="#111" stroke-width="1.5"/>
<line x1="363.00" y1="161.27" x2="367.00" y2="161.27" stroke="#111" stroke-width="1.5"/>
<line x1="363.00" y1="139.39" x2="367.00" y2="139.39" stroke="#111" stroke-width="1.5"/>
<line x1="363.00" y1="117.51" x2="367.00" y2="117.51" stroke="#111" stroke-width="1.5"/>
<line x1="363.00" y1="95.63" x2="367.00" y2="95.63" stroke="#111" stroke-width="1.5"/>
<line x1="363.00" y1="73.76" x2="367.00" y2="73.76" stroke="#111" stroke-width="1.5"/>
<line x1="363.00" y1="51.88" x2="367.00" y2="51.88" stroke="#111" stroke-width="1.5"/>
<line x1="363.00" y1="30.00" x2="367.00" y2="30.00" stroke="#111" stroke-width="1.5"/>
<line x1="363.00" y1="215.96" x2="365.20" y2="215.96" stroke="#111" stroke-width="1.5"/>
<line x1="363.00" y1="194.08" x2="365.20" y2="194.08" stroke="#111" stroke-width="1.5"/>
<line x1="363.00" y1="172.21" x2="365.20" y2="172.21" stroke="#111" stroke-width="1.5"/>
<line x1="363.00" y1="150.33" x2="365.20" y2="150.33" stroke="#111" stroke-width="1.5"/>
<line x1="363.00" y1="128.45" x2="365.20" y2="128.45" stroke="#111" stroke-width="1.5"/>
<line x1="363.00" y1="106.57" x2="365.20" y2="106.57" stroke="#111" stroke-width="1.5"/>
<line x1="363.00" y1="84.69" x2="365.20" y2="84.69" stroke="#111" stroke-width="1.5"/>
<line x1="363.00" y1="62.82" x2="365.20" y2="62.82" stroke="#111" stroke-width="1.5"/>
<line x1="363.00" y1="40.94" x2="365.20" y2="40.94" stroke="#111" stroke-width="1.5"/>
<text x="378.51" y="239.80" class="tk" text-anchor="middle">-1.4</text>
<text x="377.01" y="25.30" class="tk" text-anchor="middle">-0.4</text>
<text x="409.53" y="239.80" class="tk" text-anchor="middle">-1.2</text>
<text x="408.03" y="25.30" class="tk" text-anchor="middle">-0.2</text>
<text x="440.55" y="239.80" class="tk" text-anchor="middle">-1.0</text>
<text x="439.05" y="25.30" class="tk" text-anchor="middle">0.0</text>
<text x="471.57" y="239.80" class="tk" text-anchor="middle">-0.8</text>
<text x="470.07" y="25.30" class="tk" text-anchor="middle">0.2</text>
<text x="502.59" y="239.80" class="tk" text-anchor="middle">-0.6</text>
<text x="501.09" y="25.30" class="tk" text-anchor="middle">0.4</text>
<text x="533.61" y="239.80" class="tk" text-anchor="middle">-0.4</text>
<text x="532.11" y="25.30" class="tk" text-anchor="middle">0.6</text>
<text x="564.63" y="239.80" class="tk" text-anchor="middle">-0.2</text>
<text x="563.13" y="25.30" class="tk" text-anchor="middle">0.8</text>
<text x="595.65" y="239.80" class="tk" text-anchor="middle">0.0</text>
<text x="594.15" y="25.30" class="tk" text-anchor="middle">1.0</text>
<text x="626.67" y="239.80" class="tk" text-anchor="middle">0.2</text>
<text x="623.37" y="25.30" class="tk" text-anchor="middle">1.2</text>
<text x="358.00" y="230.70" class="tk" text-anchor="end">-1</text>
<text x="358.00" y="208.82" class="tk" text-anchor="end">0</text>
<text x="358.00" y="186.94" class="tk" text-anchor="end">1</text>
<text x="358.00" y="165.07" class="tk" text-anchor="end">2</text>
<text x="358.00" y="143.19" class="tk" text-anchor="end">3</text>
<text x="358.00" y="121.31" class="tk" text-anchor="end">4</text>
<text x="358.00" y="99.43" class="tk" text-anchor="end">5</text>
<text x="358.00" y="77.56" class="tk" text-anchor="end">6</text>
<text x="358.00" y="55.68" class="tk" text-anchor="end">7</text>
<text x="358.00" y="33.80" class="tk" text-anchor="end">8</text>
<line x1="53.2" y1="54.60" x2="72" y2="54.60" stroke="#111" stroke-width="2.2"/>
<rect x="60.20" y="52.30" width="4.60" height="4.60" fill="#fff" stroke="#555" stroke-width="0.90"/>
<text transform="translate(73.40,57.60) scale(1.140,1)" class="lg">CdS<tspan class="sub" dy="3.5">P</tspan><tspan dy="-3.5">-100 mW·cm</tspan><tspan class="sup" dy="-4">-2</tspan></text>
<line x1="53.2" y1="78.10" x2="72" y2="78.10" stroke="#f00" stroke-width="2.2"/>
<circle cx="62.50" cy="78.10" r="2.30" fill="#fff" stroke="#f55" stroke-width="0.90"/>
<text transform="translate(73.40,81.10) scale(1.140,1)" class="lg">CdS<tspan class="sub" dy="3.5">H</tspan><tspan dy="-3.5">-100 mW·cm</tspan><tspan class="sup" dy="-4">-2</tspan></text>
<line x1="53.2" y1="101.60" x2="72" y2="101.60" stroke="#00f" stroke-width="2.2"/>
<polygon points="62.50,98.84 65.12,103.53 59.88,103.53" fill="#fff" stroke="#55f" stroke-width="0.90"/>
<text transform="translate(73.40,104.60) scale(1.140,1)" class="lg">CdS<tspan class="sub" dy="3.5">N</tspan><tspan dy="-3.5">-100 mW·cm</tspan><tspan class="sup" dy="-4">-2</tspan></text>
<line x1="374.7" y1="45.30" x2="391" y2="45.30" stroke="#111" stroke-width="1.5"/>
<rect x="380.60" y="42.90" width="4.80" height="4.80" fill="#111" stroke="#111" stroke-width="0.90"/>
<text transform="translate(393.80,48.20) scale(1.000,1)" class="lgb">CdS<tspan class="subb" dy="2.8">P</tspan><tspan dy="-2.8">-100 mW·cm</tspan><tspan class="supb" dy="-3.6">-2</tspan></text>
<line x1="374.7" y1="65.50" x2="391" y2="65.50" stroke="#f00" stroke-width="1.5"/>
<circle cx="383.00" cy="65.50" r="2.40" fill="#f00" stroke="#f00" stroke-width="0.90"/>
<text transform="translate(393.80,68.40) scale(1.000,1)" class="lgb">CdS<tspan class="subb" dy="2.8">P</tspan><tspan dy="-2.8">-292 mW·cm</tspan><tspan class="supb" dy="-3.6">-2</tspan></text>
<line x1="374.7" y1="85.70" x2="391" y2="85.70" stroke="#00f" stroke-width="1.5"/>
<polygon points="383.00,82.82 385.74,87.72 380.26,87.72" fill="#00f" stroke="#00f" stroke-width="0.90"/>
<text transform="translate(393.80,88.60) scale(1.000,1)" class="lgb">CdS<tspan class="subb" dy="2.8">P</tspan><tspan dy="-2.8">-385 mW·cm</tspan><tspan class="supb" dy="-3.6">-2</tspan></text>
<line x1="374.7" y1="105.90" x2="391" y2="105.90" stroke="#111" stroke-width="1.5"/>
<polygon points="383.00,108.78 385.74,103.88 380.26,103.88" fill="#fff" stroke="#111" stroke-width="0.90"/>
<text transform="translate(393.80,108.80) scale(1.000,1)" class="lgb">CdS<tspan class="subb" dy="2.8">H</tspan><tspan dy="-2.8">-100 mW·cm</tspan><tspan class="supb" dy="-3.6">-2</tspan></text>
<line x1="374.7" y1="126.10" x2="391" y2="126.10" stroke="#f00" stroke-width="1.5"/>
<polygon points="380.12,126.10 385.02,123.36 385.02,128.84" fill="#fff" stroke="#f00" stroke-width="0.90"/>
<text transform="translate(393.80,129.00) scale(1.000,1)" class="lgb">CdS<tspan class="subb" dy="2.8">H</tspan><tspan dy="-2.8">-292 mW·cm</tspan><tspan class="supb" dy="-3.6">-2</tspan></text>
<line x1="374.7" y1="146.30" x2="391" y2="146.30" stroke="#00f" stroke-width="1.5"/>
<polygon points="385.88,146.30 380.98,143.56 380.98,149.04" fill="#fff" stroke="#00f" stroke-width="0.90"/>
<text transform="translate(393.80,149.20) scale(1.000,1)" class="lgb">CdS<tspan class="subb" dy="2.8">H</tspan><tspan dy="-2.8">-385 mW·cm</tspan><tspan class="supb" dy="-3.6">-2</tspan></text>
<text x="107.6" y="11.4" class="ttl">Potential <tspan font-style="italic" dx="1">vs</tspan><tspan dx="-0.5"> RHE (V)</tspan></text>
<text x="96.0" y="255.3" class="ttl">Potential <tspan font-style="italic" dx="1">vs</tspan><tspan dx="-0.5"> Ag/AgCl (V)</tspan></text>
<g transform="translate(18.0,0) rotate(-90)"><text x="-224.5" y="0" class="ttl yl" textLength="154.0" lengthAdjust="spacingAndGlyphs">Current density (mA·cm</text><text x="-69.7" y="-4.5" class="ttl ysup">-2</text><text x="-57.5" y="0" class="ttl yl">)</text></g>
<text x="432.6" y="10.9" class="ttl">Potential <tspan font-style="italic" dx="1">vs</tspan><tspan dx="-0.5"> RHE (V)</tspan></text>
<text x="421.0" y="256.5" class="ttl">Potential <tspan font-style="italic" dx="1">vs</tspan><tspan dx="-0.5"> Ag/AgCl (V)</tspan></text>
<g transform="translate(343.0,0) rotate(-90)"><text x="-224.5" y="0" class="ttl yl" textLength="154.0" lengthAdjust="spacingAndGlyphs">Current density (mA·cm</text><text x="-69.7" y="-4.5" class="ttl ysup">-2</text><text x="-57.5" y="0" class="ttl yl">)</text></g>
<text transform="translate(1.0,21.5) scale(1.0,1)" class="pl">(a)</text>
<text transform="translate(326.0,21.5) scale(1.0,1)" class="pl">(b)</text>
</svg>
</body></html>
